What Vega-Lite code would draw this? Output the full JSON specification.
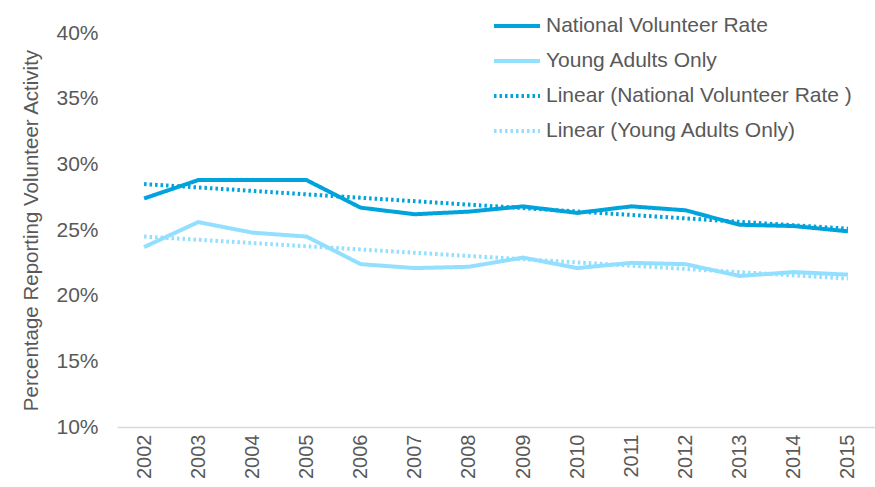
{
  "$schema": "https://vega.github.io/schema/vega-lite/v6.json",
  "autosize": "none",
  "padding": {"left": 117, "top": 33, "right": 0, "bottom": 60},
  "width": 758,
  "height": 394,
  "config": {
    "view": {"stroke": null},
    "font": "Liberation Sans",
    "legend": {
      "title": null, "orient": "none", "legendX": 375, "legendY": -32,
      "labelFontSize": 21, "labelColor": "#595959", "symbolType": "stroke", "symbolSize": 2116,
      "rowPadding": -2, "labelOffset": 4, "labelLimit": 500
    }
  },
  "data": {
    "values": [
      {"year": "2002", "series": "National Volunteer Rate", "v": 27.4},
      {"year": "2003", "series": "National Volunteer Rate", "v": 28.8},
      {"year": "2004", "series": "National Volunteer Rate", "v": 28.8},
      {"year": "2005", "series": "National Volunteer Rate", "v": 28.8},
      {"year": "2006", "series": "National Volunteer Rate", "v": 26.7},
      {"year": "2007", "series": "National Volunteer Rate", "v": 26.2},
      {"year": "2008", "series": "National Volunteer Rate", "v": 26.4},
      {"year": "2009", "series": "National Volunteer Rate", "v": 26.8},
      {"year": "2010", "series": "National Volunteer Rate", "v": 26.3},
      {"year": "2011", "series": "National Volunteer Rate", "v": 26.8},
      {"year": "2012", "series": "National Volunteer Rate", "v": 26.5},
      {"year": "2013", "series": "National Volunteer Rate", "v": 25.4},
      {"year": "2014", "series": "National Volunteer Rate", "v": 25.3},
      {"year": "2015", "series": "National Volunteer Rate", "v": 24.9},
      {"year": "2002", "series": "Young Adults Only", "v": 23.7},
      {"year": "2003", "series": "Young Adults Only", "v": 25.6},
      {"year": "2004", "series": "Young Adults Only", "v": 24.8},
      {"year": "2005", "series": "Young Adults Only", "v": 24.5},
      {"year": "2006", "series": "Young Adults Only", "v": 22.4},
      {"year": "2007", "series": "Young Adults Only", "v": 22.1},
      {"year": "2008", "series": "Young Adults Only", "v": 22.2},
      {"year": "2009", "series": "Young Adults Only", "v": 22.9},
      {"year": "2010", "series": "Young Adults Only", "v": 22.1},
      {"year": "2011", "series": "Young Adults Only", "v": 22.5},
      {"year": "2012", "series": "Young Adults Only", "v": 22.4},
      {"year": "2013", "series": "Young Adults Only", "v": 21.5},
      {"year": "2014", "series": "Young Adults Only", "v": 21.8},
      {"year": "2015", "series": "Young Adults Only", "v": 21.6},
      {"year": "2002", "series": "Linear (National Volunteer Rate )", "v": 28.5},
      {"year": "2015", "series": "Linear (National Volunteer Rate )", "v": 25.1},
      {"year": "2002", "series": "Linear (Young Adults Only)", "v": 24.5},
      {"year": "2015", "series": "Linear (Young Adults Only)", "v": 21.3}
    ]
  },
  "mark": {"type": "line", "strokeCap": "butt"},
  "encoding": {
    "x": {
      "field": "year", "type": "ordinal",
      "scale": {"type": "point", "padding": 0.5},
      "axis": {
        "title": null, "labelAngle": -90, "labelFontSize": 20, "labelColor": "#595959",
        "ticks": false, "domainColor": "#D9D9D9", "domainWidth": 1.5, "labelPadding": 7,
        "labelBaseline": "middle"
      }
    },
    "y": {
      "field": "v", "type": "quantitative",
      "scale": {"domain": [10, 40], "nice": false, "zero": false},
      "axis": {
        "title": "Percentage Reporting Volunteer Activity", "titleFontSize": 20.5, "titleFontWeight": "normal",
        "titleColor": "#595959", "titlePadding": 14,
        "values": [10, 15, 20, 25, 30, 35, 40], "labelExpr": "datum.value + '%'",
        "labelFontSize": 21, "labelColor": "#595959", "ticks": false, "domain": false, "grid": false,
        "labelPadding": 19
      }
    },
    "color": {
      "field": "series", "type": "nominal",
      "scale": {
        "domain": ["National Volunteer Rate", "Young Adults Only", "Linear (National Volunteer Rate )", "Linear (Young Adults Only)"],
        "range": ["#00A3DB", "#92DFFF", "#00A3DB", "#92DFFF"]
      }
    },
    "strokeDash": {
      "field": "series", "type": "nominal",
      "scale": {
        "domain": ["National Volunteer Rate", "Young Adults Only", "Linear (National Volunteer Rate )", "Linear (Young Adults Only)"],
        "range": [[1, 0], [1, 0], [2.5, 3], [2.5, 3]]
      }
    },
    "strokeWidth": {
      "field": "series", "type": "nominal",
      "scale": {
        "domain": ["National Volunteer Rate", "Young Adults Only", "Linear (National Volunteer Rate )", "Linear (Young Adults Only)"],
        "range": [4, 4, 2.5, 2.5]
      }
    }
  }
}
